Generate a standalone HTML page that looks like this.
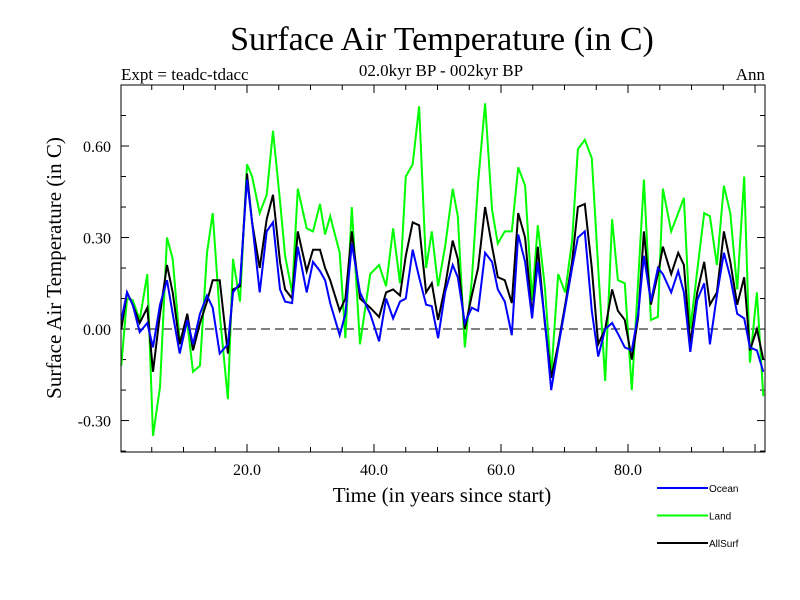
<!DOCTYPE html>
<html><head><meta charset="utf-8"><style>
body{margin:0;background:#fff}
svg{display:block}
.serif{font-family:"Liberation Serif",serif}
.sans{font-family:"Liberation Sans",sans-serif}
</style></head><body>
<svg id="chart" width="800" height="600" viewBox="0 0 800 600">
<text class="serif" x="442" y="50" font-size="34" text-anchor="middle">Surface Air Temperature (in C)</text>
<text class="serif" x="121" y="80" font-size="17">Expt = teadc-tdacc</text>
<text class="serif" x="441" y="76" font-size="17" text-anchor="middle">02.0kyr BP - 002kyr BP</text>
<text class="serif" x="765" y="80" font-size="17" text-anchor="end">Ann</text>
<text class="serif" x="0" y="0" font-size="21" text-anchor="middle" transform="translate(61,268) rotate(-90)">Surface Air Temperature (in C)</text>
<text class="serif" x="442" y="502" font-size="21" text-anchor="middle">Time (in years since start)</text>
<g id="ticks"></g>
<g id="series"></g>
<rect x="121" y="85" width="644" height="367" fill="none" stroke="#000" stroke-width="1"/>
<g id="legend"></g>
</svg>
<script>
const times = [0.2,1.1,2.0,3.1,4.3,5.2,6.3,7.4,8.3,9.4,10.6,11.5,12.6,13.7,14.6,15.7,17.0,17.8,18.9,20.0,20.8,22.0,23.1,24.1,25.2,26.0,27.1,28.0,29.4,30.4,31.5,32.3,33.1,34.6,35.5,36.5,37.8,39.4,40.8,41.9,43.0,44.1,45.0,46.1,47.1,48.2,49.1,50.1,51.2,52.4,53.2,54.3,55.4,56.4,57.5,58.6,59.5,60.6,61.7,62.7,63.8,64.9,65.8,66.9,67.9,69.0,70.1,71.2,72.1,73.2,74.3,75.3,76.4,77.5,78.4,79.5,80.6,81.6,82.5,83.6,84.7,85.5,86.8,87.9,88.8,89.8,90.9,92.0,92.9,94.0,95.1,96.1,97.2,98.3,99.2,100.3,101.3];
const ocean = [0.03,0.12,0.08,-0.01,0.02,-0.06,0.08,0.16,0.05,-0.08,0.03,-0.05,0.05,0.11,0.07,-0.08,-0.05,0.12,0.15,0.49,0.35,0.12,0.32,0.35,0.13,0.09,0.085,0.27,0.12,0.22,0.19,0.16,0.085,-0.02,0.05,0.28,0.12,0.05,-0.04,0.10,0.035,0.09,0.10,0.26,0.17,0.08,0.075,-0.03,0.12,0.21,0.17,0.02,0.07,0.06,0.25,0.22,0.13,0.09,-0.02,0.31,0.22,0.035,0.22,0.03,-0.2,-0.06,0.07,0.2,0.3,0.32,0.06,-0.09,0.0,0.02,-0.015,-0.06,-0.07,0.05,0.24,0.09,0.2,0.18,0.12,0.19,0.12,-0.075,0.095,0.15,-0.05,0.11,0.25,0.17,0.05,0.035,-0.06,-0.07,-0.14];
const land = [-0.12,0.10,0.095,0.03,0.18,-0.35,-0.19,0.30,0.23,-0.04,0.02,-0.14,-0.12,0.25,0.38,0.05,-0.23,0.23,0.09,0.54,0.50,0.38,0.44,0.65,0.42,0.24,0.12,0.46,0.33,0.32,0.41,0.31,0.37,0.25,-0.03,0.40,-0.05,0.18,0.21,0.14,0.33,0.15,0.5,0.54,0.73,0.2,0.32,0.14,0.27,0.46,0.37,-0.06,0.16,0.48,0.74,0.39,0.28,0.32,0.32,0.53,0.47,0.095,0.34,0.14,-0.15,0.18,0.12,0.29,0.59,0.62,0.56,0.2,-0.17,0.36,0.16,0.15,-0.2,0.16,0.49,0.03,0.04,0.46,0.32,0.38,0.43,0.0,0.19,0.38,0.37,0.21,0.47,0.38,0.13,0.5,-0.11,0.12,-0.22];
const allSurf = [0.0,0.12,0.08,0.02,0.07,-0.14,0.05,0.21,0.12,-0.05,0.05,-0.07,0.02,0.09,0.16,0.16,-0.08,0.13,0.14,0.51,0.35,0.2,0.36,0.44,0.22,0.13,0.1,0.32,0.19,0.26,0.26,0.2,0.16,0.06,0.1,0.32,0.1,0.07,0.04,0.12,0.13,0.11,0.24,0.35,0.34,0.12,0.15,0.03,0.14,0.29,0.23,0.0,0.11,0.2,0.4,0.27,0.17,0.16,0.085,0.38,0.3,0.04,0.27,0.02,-0.16,-0.05,0.08,0.22,0.4,0.41,0.2,-0.05,0.0,0.13,0.06,0.03,-0.1,0.04,0.32,0.08,0.18,0.27,0.18,0.25,0.21,-0.05,0.12,0.22,0.08,0.12,0.32,0.22,0.08,0.17,-0.07,0.0,-0.1];
const xTickValues = [20, 40, 60, 80];
const xTickLabels = ["20.0", "40.0", "60.0", "80.0"];
const yTickValues = [-0.3, 0, 0.3, 0.6];
const yTickLabels = ["-0.30", "0.00", "0.30", "0.60"];
const seriesNames = ["Ocean", "Land", "AllSurf"];

const X0 = 121, X1 = 765, Y0 = 85, Y1 = 452;
const xMin = 0.16, xMax = 101.57, yMin = -0.403, yMax = 0.8;
function xs(t){ return X0 + (t - xMin) / (xMax - xMin) * (X1 - X0); }
function ys(v){ return Y1 - (v - yMin) / (yMax - yMin) * (Y1 - Y0); }
const NS = "http://www.w3.org/2000/svg";
const ticks = document.getElementById('ticks');
function line(parent, x1, y1, x2, y2, stroke, w, dash){
  const l = document.createElementNS(NS, 'line');
  l.setAttribute('x1', x1); l.setAttribute('y1', y1); l.setAttribute('x2', x2); l.setAttribute('y2', y2);
  l.setAttribute('stroke', stroke); l.setAttribute('stroke-width', w);
  if (dash) l.setAttribute('stroke-dasharray', dash);
  parent.appendChild(l);
  return l;
}
function text(parent, x, y, s, anchor, cls, size){
  const t = document.createElementNS(NS, 'text');
  t.setAttribute('x', x); t.setAttribute('y', y); t.setAttribute('text-anchor', anchor);
  t.setAttribute('class', cls); t.setAttribute('font-size', size);
  t.textContent = s; parent.appendChild(t); return t;
}
// minor x ticks every 5
for (let t = 5; t < xMax; t += 5) {
  const major = t % 20 === 0;
  const len = major ? 8 : 5;
  const x = xs(t);
  const a = line(ticks, x, Y1, x, Y1 - len, '#000', 1);
  
  
  const b = line(ticks, x, Y0, x, Y0 + len, '#000', 1);
  
  
}
for (let k = -4; k <= 7; k++) {
  const v = k / 10;
  const major = k % 3 === 0;
  const len = major ? 8 : 5;
  const y = ys(v);
  const a = line(ticks, X0, y, X0 + len, y, '#000', 1);
  
  
  const b = line(ticks, X1, y, X1 - len, y, '#000', 1);
  
  
}
xTickValues.forEach((v, i) => {
  const t = text(ticks, xs(v), 475, xTickLabels[i], 'middle', 'serif', 16);
  
  
});
yTickValues.forEach((v, i) => {
  const t = text(ticks, 111, ys(v) + 6, yTickLabels[i], 'end', 'serif', 16);
  
  
});
const zl = line(ticks, X0, ys(0), X1, ys(0), '#000', 1, '9,5');



const sg = document.getElementById('series');
function drawSeries(vals, color, name){
  const p = document.createElementNS(NS, 'polyline');
  p.setAttribute('points', vals.map((v, i) => xs(times[i]).toFixed(1) + ',' + ys(v).toFixed(1)).join(' '));
  p.setAttribute('fill', 'none'); p.setAttribute('stroke', color); p.setAttribute('stroke-width', 2);
  p.setAttribute('stroke-linejoin', 'miter');
  
  
  sg.appendChild(p);
}
drawSeries(land, '#00ff00', 'land-line');
drawSeries(allSurf, '#000000', 'allsurf-line');
drawSeries(ocean, '#0000ff', 'ocean-line');

const lg = document.getElementById('legend');
const lcolors = ['#0000ff', '#00ff00', '#000000'];
seriesNames.forEach((n, i) => {
  const y = 488 + i * 27.5;
  const l = line(lg, 657, y, 708, y, lcolors[i], 2);
  
  
  const t = text(lg, 709, y + 4, n, 'start', 'sans', 10);
  
  
});
</script>
</body></html>
